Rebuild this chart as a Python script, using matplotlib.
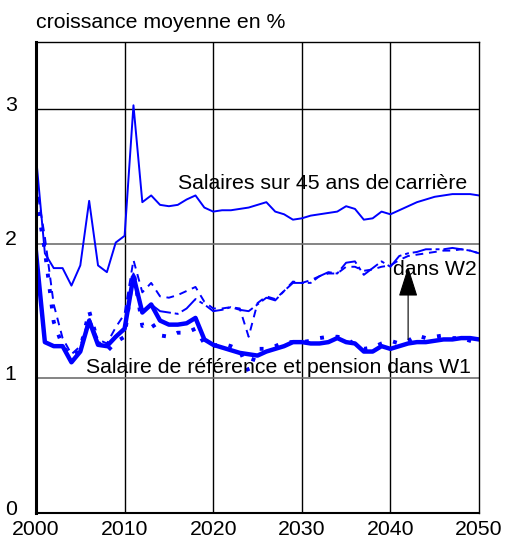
import matplotlib
matplotlib.use("Agg")
import matplotlib.pyplot as plt
import matplotlib.transforms as mtransforms
import numpy as np

plt.rcParams['font.family'] = ['Liberation Sans', 'DejaVu Sans']

years = list(range(2000, 2051))

# Salaires sur 45 ans de carriere
sal_45ans = [2.65, 1.93, 1.82, 1.82, 1.69, 1.84, 2.32, 1.84, 1.79, 2.01,
             2.06, 3.03, 2.31, 2.36, 2.29, 2.28, 2.29, 2.33, 2.36, 2.27,
             2.24, 2.25, 2.25, 2.26, 2.27, 2.29, 2.31, 2.24, 2.22, 2.18,
             2.19, 2.21, 2.22, 2.23, 2.24, 2.28, 2.26, 2.18, 2.19, 2.24,
             2.22, 2.25, 2.28, 2.31, 2.33, 2.35, 2.36, 2.37, 2.37, 2.37,
             2.36]

# Salaire de reference dans W1
sal_ref_w1 = [1.94, 1.27, 1.24, 1.24, 1.12, 1.20, 1.43, 1.25, 1.24, 1.31,
              1.37, 1.76, 1.49, 1.55, 1.43, 1.40, 1.40, 1.41, 1.45, 1.29,
              1.25, 1.23, 1.21, 1.19, 1.18, 1.17, 1.20, 1.22, 1.24, 1.27,
              1.27, 1.26, 1.26, 1.27, 1.30, 1.27, 1.26, 1.20, 1.20, 1.24,
              1.22, 1.24, 1.26, 1.27, 1.27, 1.28, 1.29, 1.29, 1.30, 1.30,
              1.29]

# Salaire de reference dans W2
sal_ref_w2 = [1.94, 1.27, 1.24, 1.24, 1.12, 1.20, 1.43, 1.25, 1.24, 1.31,
              1.36, 1.78, 1.50, 1.55, 1.50, 1.49, 1.48, 1.52, 1.59, 1.55,
              1.50, 1.51, 1.53, 1.51, 1.50, 1.55, 1.60, 1.58, 1.65, 1.71,
              1.71, 1.71, 1.76, 1.79, 1.78, 1.86, 1.87, 1.77, 1.82, 1.87,
              1.83, 1.91, 1.93, 1.94, 1.96, 1.96, 1.96, 1.97, 1.96, 1.95,
              1.93]

# Pension dans W1
pension_w1 = [2.35, 1.95, 1.42, 1.24, 1.16, 1.22, 1.50, 1.27, 1.20, 1.27,
              1.31, 1.80, 1.39, 1.42, 1.32, 1.31, 1.34, 1.34, 1.37, 1.26,
              1.24, 1.26, 1.24, 1.21, 1.05, 1.22, 1.22, 1.24, 1.27, 1.27,
              1.27, 1.28, 1.30, 1.31, 1.31, 1.30, 1.25, 1.22, 1.23, 1.26,
              1.28, 1.26, 1.28, 1.32, 1.30, 1.31, 1.32, 1.30, 1.30, 1.28,
              1.26]

# Pension dans W2
pension_w2 = [2.45, 2.05, 1.55, 1.30, 1.18, 1.24, 1.45, 1.29, 1.26, 1.38,
              1.48, 1.88, 1.64, 1.71, 1.61, 1.60, 1.62, 1.65, 1.68, 1.57,
              1.52, 1.52, 1.53, 1.52, 1.31, 1.56, 1.61, 1.59, 1.65, 1.72,
              1.71, 1.73, 1.76, 1.78, 1.78, 1.83, 1.83, 1.80, 1.81, 1.83,
              1.84, 1.88, 1.91, 1.92, 1.93, 1.94, 1.95, 1.95, 1.96, 1.95,
              1.93]

x_ticks = [2000, 2010, 2020, 2030, 2040, 2050]
y_ticks = [0, 1, 2, 3]

blue = "#0000ff"
fsize = 15.3

fig = plt.figure(figsize=(5.05, 5.39), dpi=100)
ax = fig.add_axes([0.0713, 0.0482, 0.8772, 0.8738])

# grid
for v in [2010, 2020, 2030, 2040]:
    ax.axvline(v, color="black", lw=1, zorder=0)
for v in [1, 2]:
    ax.axhline(v, color="#707070", lw=1.2, zorder=0)
ax.axhline(3, color="black", lw=1, zorder=0)

ax.plot(years, sal_45ans, color=blue, lw=1.4)
ax.plot(years, sal_ref_w2, color=blue, lw=1.4, dashes=[10, 2, 2, 2])
ax.plot(years, pension_w2, color=blue, lw=1.4, dashes=[4, 3])
ax.plot(years, pension_w1, color=blue, lw=2.8, dashes=[1, 3])
ax.plot(years, sal_ref_w1, color=blue, lw=3.2)

ax.annotate("", xy=(2042, 1.83), xytext=(2042, 1.29),
            arrowprops=dict(arrowstyle="-|>,head_length=1.9,head_width=0.6",
                            mutation_scale=10, color="black", lw=0.8,
                            shrinkA=0, shrinkB=0))

ax.text(2016.0, 2.45, "Salaires sur 45 ans de carrière", fontsize=fsize,
        va="center", ha="left")
ax.text(2040.3, 1.81, "dans W2", fontsize=fsize, va="center", ha="left")
ax.text(2005.6, 1.085, "Salaire de référence et pension dans W1",
        fontsize=fsize, va="center", ha="left")

ax.set_xlim(2000, 2050)
ax.set_ylim(0, 3.5)
ax.set_xticks(x_ticks)
ax.set_yticks(y_ticks)
ax.tick_params(length=0, labelsize=fsize)
ax.tick_params(axis="y", pad=14)
ax.tick_params(axis="x", pad=5)

# y labels sit a little above their gridline in the original
shift = mtransforms.ScaledTranslation(0, 4.3 / 72, fig.dpi_scale_trans)
for lab in ax.get_yticklabels():
    lab.set_transform(lab.get_transform() + shift)

ax.spines["left"].set_linewidth(2.2)
ax.spines["bottom"].set_linewidth(1.5)
ax.spines["top"].set_linewidth(1)
ax.spines["right"].set_linewidth(1)

fig.text(0.0713, 0.958, "croissance moyenne en %", fontsize=fsize,
         va="center", ha="left")

fig.savefig("out.png", dpi=100)
